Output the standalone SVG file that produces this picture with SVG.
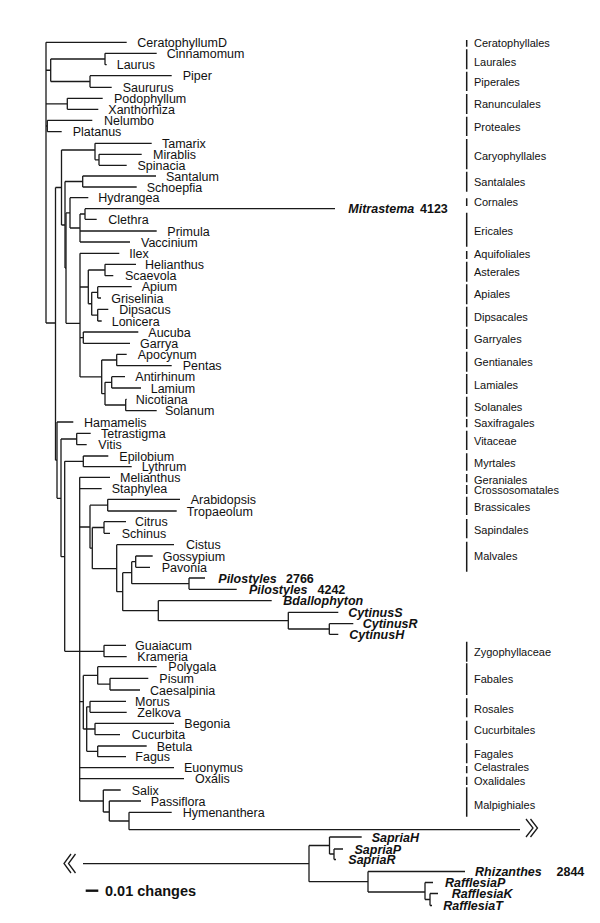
<svg xmlns="http://www.w3.org/2000/svg" width="600" height="923" viewBox="0 0 600 923">
<style>
.c path{fill:none;stroke:#1a1a1a;stroke-width:1.3}
.bar{stroke:#1a1a1a;stroke-width:1.5}
text{font-family:"Liberation Sans",Arial,sans-serif;fill:#111}
.t{font-size:12.5px}
.b{font-size:12.5px;font-weight:bold;font-style:italic}
.n{font-size:12.5px;font-weight:bold}
.o{font-size:11px}
.s{font-size:14.5px;font-weight:bold}
.brk{fill:none;stroke:#1a1a1a;stroke-width:1.3}
</style>
<rect width="600" height="923" fill="#fff"/>
<g id="connectors" class="c">
<path d="M46,42.3V323M46,42.3H126.7"/>
<path d="M46,70.25H50.7M50.7,59V81.5"/>
<path d="M50.7,59H105M105,53.3V64.7M105,53.3H156.7M105,64.7H106.7"/>
<path d="M50.7,81.5H90M90,75.7V87.3M90,75.7H171.7M90,87.3H111.7"/>
<path d="M46,103.8H67.3M67.3,98.3V109.3M67.3,98.3H102.7M67.3,109.3H98.3"/>
<path d="M46,126H47.3M47.3,120.3V131.7M47.3,120.3H92.3M47.3,131.7H61.7"/>
<path d="M46,323H55.5M55.5,187.5V460.2"/>
<path d="M55.5,187.5H61.5M61.5,150V225"/>
<path d="M61.5,150H95M95,143.3V159.8M95,143.3H151.7M95,159.8H99M99,154.3V165.3M99,154.3H141.7M99,165.3H126.7"/>
<path d="M61.5,225H65M65,181.5V268"/>
<path d="M65,181.5H82.7M82.7,176V187M82.7,176H156M82.7,187H136.7"/>
<path d="M65,268H66M66,212.9V323.3"/>
<path d="M66,212.9H70M70,197.7V228M70,197.7H88.3"/>
<path d="M70,228H80M80,214V242M80,231H156.7M80,242H130"/>
<path d="M80,214H85M85,208.7V219.3M85,208.7H335M85,219.3H96.7"/>
<path d="M66,323.3H80M80,253.3V376.9M80,253.3H119.3"/>
<path d="M80,287H88.3M88.3,270V303.75"/>
<path d="M88.3,270H105M105,264.3V275.7M105,264.3H136M105,275.7H113.3"/>
<path d="M88.3,303.75H91.7M91.7,292.35V315.15"/>
<path d="M91.7,292.35H97.7M97.7,286.7V298M97.7,286.7H131.7M97.7,298H101"/>
<path d="M91.7,315.15H97.7M97.7,309.3V321M97.7,309.3H108.3M97.7,321H101.7"/>
<path d="M80,337.65H83.3M83.3,332V343.3M83.3,332H138.3M83.3,343.3H130"/>
<path d="M80,376.9H101.7M101.7,360V393.7"/>
<path d="M101.7,360H116.7M116.7,354.3V365.7M116.7,354.3H126.7M116.7,365.7H171.7"/>
<path d="M101.7,393.7H105M105,382.35V405"/>
<path d="M105,382.35H111.7M111.7,376.7V388M111.7,376.7H125M111.7,388H141"/>
<path d="M105,405H125.7M125.7,399.3V410.7M125.7,399.3H126.7M125.7,410.7H156.7"/>
<path d="M55.5,460.2H57M57,422V498.3M57,422H73.3"/>
<path d="M57,498.3H61M61,439V556.7"/>
<path d="M61,439H76.7M76.7,433.3V444.7M76.7,433.3H90.7M76.7,444.7H86.7"/>
<path d="M61,556.7H64.7M64.7,461.35V651.3"/>
<path d="M64.7,461.35H83.3M83.3,456V466.7M83.3,456H108.3M83.3,466.7H131.7"/>
<path d="M64.7,651.3H79.7M79.7,477.3V801M79.7,477.3H110M79.7,488.7H101.7"/>
<path d="M79.7,527H90M90,505.15V548.2"/>
<path d="M90,505.15H107.7M107.7,499.3V511M107.7,499.3H180M107.7,511H176.7"/>
<path d="M90,548.2H92.3M92.3,527.5V568.7"/>
<path d="M92.3,527.5H104M104,521.7V533.3M104,521.7H126M104,533.3H110"/>
<path d="M92.3,568.7H116.7M116.7,544.7V591.7M116.7,544.7H174"/>
<path d="M116.7,591.7H122.7M122.7,572.65V610.7"/>
<path d="M122.7,572.65H131.7M131.7,561.65V583.65"/>
<path d="M131.7,561.65H135.7M135.7,556V567.3M135.7,556H152.7M135.7,567.3H150"/>
<path d="M131.7,583.65H189M189,578V589.3M189,578H205M189,589.3H236.7"/>
<path d="M122.7,610.7H158.3M158.3,600.7V620.65M158.3,600.7H271.7"/>
<path d="M158.3,620.65H288.3M288.3,612.3V629M288.3,612.3H338.3"/>
<path d="M288.3,629H329.3M329.3,623.7V634.3M329.3,623.7H353.3M329.3,634.3H338.3"/>
<path d="M79.7,651.3H104M104,645.3V656.7M104,645.3H126M104,656.7H126.7"/>
<path d="M79.7,701.7H83.3M83.3,675.4V729"/>
<path d="M83.3,675.4H97.7M97.7,666.7V684.15M97.7,666.7H156.7"/>
<path d="M97.7,684.15H110M110,678.3V690M110,678.3H148.3M110,690H140"/>
<path d="M83.3,729H86.7M86.7,706.8V751.35"/>
<path d="M86.7,706.8H90M90,701.3V712.3M90,701.3H126M90,712.3H126.7"/>
<path d="M86.7,729H95M95,723.3V734.7M95,723.3H174M95,734.7H120"/>
<path d="M86.7,751.35H97.7M97.7,746V756.7M97.7,746H146.7M97.7,756.7H126"/>
<path d="M79.7,767.7H174M79.7,778.7H184"/>
<path d="M79.7,801H103.3M103.3,790V812M103.3,790H120.7"/>
<path d="M103.3,812H109.3M109.3,801V821M109.3,801H141"/>
<path d="M109.3,821H129M129,812.3V829.7M129,812.3H171.7M129,829.7H520"/>
<path d="M83,863.7H309M309,845.5V881.7"/>
<path d="M309,845.5H329.5M329.5,837V854M329.5,837H361.7"/>
<path d="M329.5,854H334M334,849V859.5M334,849H343M334,859.5H336"/>
<path d="M309,881.7H368M368,871.5V892M368,871.5H465"/>
<path d="M368,892H425M425,882.5V899.5M425,882.5H433"/>
<path d="M425,899.5H430M430,893.5V905.5M430,893.5H438M430,905.5H432"/>
</g>
<g id="breaks">
<path class="brk" d="M526,819L533,828L526,837M530.5,819L537.5,828L530.5,837"/>
<path class="brk" d="M71,854L64,863.5L71,873M75.5,854L68.5,863.5L75.5,873"/>
</g>
<g id="taxa">
<text class="t" x="137.3" y="46.8">CeratophyllumD</text>
<text class="t" x="166.7" y="57.8">Cinnamomum</text>
<text class="t" x="116.7" y="69.2">Laurus</text>
<text class="t" x="182.7" y="80.2">Piper</text>
<text class="t" x="122.7" y="91.8">Saururus</text>
<text class="t" x="114" y="102.8">Podophyllum</text>
<text class="t" x="108.3" y="113.8">Xanthorhiza</text>
<text class="t" x="104" y="124.8">Nelumbo</text>
<text class="t" x="72.7" y="136.2">Platanus</text>
<text class="t" x="162" y="147.8">Tamarix</text>
<text class="t" x="153" y="158.8">Mirablis</text>
<text class="t" x="137.5" y="169.8">Spinacia</text>
<text class="t" x="166" y="180.5">Santalum</text>
<text class="t" x="146.7" y="191.5">Schoepfia</text>
<text class="t" x="98.3" y="202.2">Hydrangea</text>
<g id="n-mitrastema"><text class="b" x="348.3" y="213.2">Mitrastema</text><text class="n" x="420" y="213.2">4123</text></g>
<text class="t" x="108.3" y="223.8">Clethra</text>
<text class="t" x="167.3" y="235.5">Primula</text>
<text class="t" x="141" y="246.5">Vaccinium</text>
<text class="t" x="129.3" y="257.8">Ilex</text>
<text class="t" x="145" y="268.8">Helianthus</text>
<text class="t" x="125" y="280.2">Scaevola</text>
<text class="t" x="141.7" y="291.2">Apium</text>
<text class="t" x="111.3" y="302.5">Griselinia</text>
<text class="t" x="119.3" y="313.8">Dipsacus</text>
<text class="t" x="111.7" y="325.5">Lonicera</text>
<text class="t" x="148.3" y="336.5">Aucuba</text>
<text class="t" x="140" y="347.8">Garrya</text>
<text class="t" x="137.7" y="358.8">Apocynum</text>
<text class="t" x="182.7" y="370.2">Pentas</text>
<text class="t" x="135.3" y="381.2">Antirhinum</text>
<text class="t" x="150.7" y="392.5">Lamium</text>
<text class="t" x="135.7" y="403.8">Nicotiana</text>
<text class="t" x="165" y="415.2">Solanum</text>
<text class="t" x="84" y="426.5">Hamamelis</text>
<text class="t" x="101" y="437.8">Tetrastigma</text>
<text class="t" x="98.3" y="449.2">Vitis</text>
<text class="t" x="119.3" y="460.5">Epilobium</text>
<text class="t" x="141.7" y="471.2">Lythrum</text>
<text class="t" x="120" y="481.8">Melianthus</text>
<text class="t" x="111.7" y="493.2">Staphylea</text>
<text class="t" x="190.7" y="503.8">Arabidopsis</text>
<text class="t" x="186.7" y="515.5">Tropaeolum</text>
<text class="t" x="135" y="526.2">Citrus</text>
<text class="t" x="121.7" y="537.8">Schinus</text>
<text class="t" x="186" y="549.2">Cistus</text>
<text class="t" x="162.7" y="560.5">Gossypium</text>
<text class="t" x="161.7" y="571.8">Pavonia</text>
<g id="n-pilostyles1"><text class="b" x="218.3" y="582.5">Pilostyles</text><text class="n" x="286" y="582.5">2766</text></g>
<g id="n-pilostyles2"><text class="b" x="249" y="593.8">Pilostyles</text><text class="n" x="317.5" y="593.8">4242</text></g>
<text class="b" x="283.3" y="605.2">Bdallophyton</text>
<text class="b" x="348.3" y="616.8">CytinusS</text>
<text class="b" x="362.7" y="628.2">CytinusR</text>
<text class="b" x="349.3" y="638.8">CytinusH</text>
<text class="t" x="135" y="649.8">Guaiacum</text>
<text class="t" x="137.3" y="661.2">Krameria</text>
<text class="t" x="168.3" y="671.2">Polygala</text>
<text class="t" x="159.3" y="682.8">Pisum</text>
<text class="t" x="150" y="694.5">Caesalpinia</text>
<text class="t" x="135" y="705.8">Morus</text>
<text class="t" x="137.3" y="716.8">Zelkova</text>
<text class="t" x="184.3" y="727.8">Begonia</text>
<text class="t" x="131.7" y="739.2">Cucurbita</text>
<text class="t" x="156.7" y="750.5">Betula</text>
<text class="t" x="135.3" y="761.2">Fagus</text>
<text class="t" x="184" y="772.2">Euonymus</text>
<text class="t" x="195" y="783.2">Oxalis</text>
<text class="t" x="131.7" y="794.5">Salix</text>
<text class="t" x="150.7" y="805.5">Passiflora</text>
<text class="t" x="182.7" y="816.8">Hymenanthera</text>
<text class="b" x="371.7" y="841.5">SapriaH</text>
<text class="b" x="354.5" y="853.5">SapriaP</text>
<text class="b" x="348.3" y="864">SapriaR</text>
<g id="n-rhizanthes"><text class="b" x="475" y="876">Rhizanthes</text><text class="n" x="556.5" y="876">2844</text></g>
<text class="b" x="445" y="887">RafflesiaP</text>
<text class="b" x="451.7" y="898">RafflesiaK</text>
<text class="b" x="443.3" y="909.5">RafflesiaT</text>
</g>
<g id="orders">
<path class="bar" d="M466.7,40V46.7M466.7,49.3V69.3M466.7,71.7V91M466.7,94V114M466.7,116.7V136M466.7,139V169.3M466.7,171.7V191.7M466.7,198.3V206M466.7,212.7V246.7M466.7,251V259M466.7,261.7V281.7M466.7,284.3V304.3M466.7,306.7V326.7M466.7,329V349M466.7,351.7V371.7M466.7,374V394M466.7,396.7V416.7M466.7,419V427.3M466.7,430.7V450M466.7,453.3V470.7M466.7,474V482.3M466.7,485V494M466.7,496.7V515M466.7,519V538.3M466.7,541.7V571.7M466.7,641.7V661.7M466.7,663.3V695M466.7,698.3V717.3M466.7,720.7V740M466.7,743.3V763.3M466.7,766V773.3M466.7,776.7V785M466.7,787.3V816.7"/>
<text class="o" x="474" y="47.2">Ceratophyllales</text>
<text class="o" x="474" y="66.2">Laurales</text>
<text class="o" x="474" y="85.6">Piperales</text>
<text class="o" x="474" y="107.9">Ranunculales</text>
<text class="o" x="474" y="130.6">Proteales</text>
<text class="o" x="474" y="159.9">Caryophyllales</text>
<text class="o" x="474" y="185.6">Santalales</text>
<text class="o" x="474" y="205.6">Cornales</text>
<text class="o" x="474" y="234.6">Ericales</text>
<text class="o" x="474" y="258.2">Aquifoliales</text>
<text class="o" x="474" y="276.2">Asterales</text>
<text class="o" x="474" y="298.2">Apiales</text>
<text class="o" x="474" y="321.2">Dipsacales</text>
<text class="o" x="474" y="342.6">Garryales</text>
<text class="o" x="474" y="365.6">Gentianales</text>
<text class="o" x="474" y="388.6">Lamiales</text>
<text class="o" x="474" y="410.6">Solanales</text>
<text class="o" x="474" y="427.2">Saxifragales</text>
<text class="o" x="474" y="444.6">Vitaceae</text>
<text class="o" x="474" y="466.6">Myrtales</text>
<text class="o" x="474" y="483.9">Geraniales</text>
<text class="o" x="474" y="493.9">Crossosomatales</text>
<text class="o" x="474" y="510.6">Brassicales</text>
<text class="o" x="474" y="533.9">Sapindales</text>
<text class="o" x="474" y="559.9">Malvales</text>
<text class="o" x="474" y="655.6">Zygophyllaceae</text>
<text class="o" x="474" y="683.2">Fabales</text>
<text class="o" x="474" y="712.6">Rosales</text>
<text class="o" x="474" y="733.9">Cucurbitales</text>
<text class="o" x="474" y="757.9">Fagales</text>
<text class="o" x="474" y="771.2">Celastrales</text>
<text class="o" x="474" y="784.6">Oxalidales</text>
<text class="o" x="474" y="808.9">Malpighiales</text>
</g>
<g id="scale">
<path d="M85.7,890.7H98.3" stroke="#111" stroke-width="2.4"/>
<text class="s" x="105" y="895.8">0.01 changes</text>
</g>
</svg>
